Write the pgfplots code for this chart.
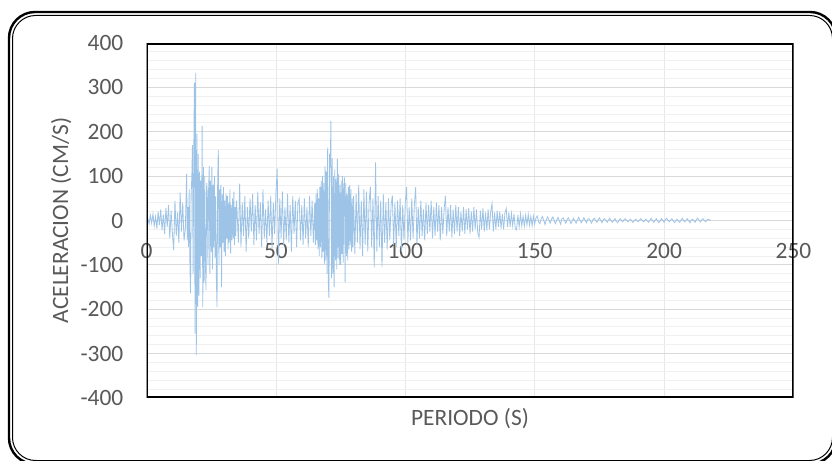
\documentclass[border=0pt]{standalone}
\usepackage{pgfplots}
\pgfplotsset{compat=1.18}
\usepackage{fontspec}
\setmainfont{Carlito}
\definecolor{txt}{HTML}{595959}
\definecolor{sig}{HTML}{9DC3E6}
\definecolor{gmaj}{HTML}{D9D9D9}
\definecolor{gmin}{HTML}{F0F0F0}
\definecolor{gx}{HTML}{E8E8E8}
\begin{document}
\begin{tikzpicture}
\useasboundingbox (0,0) rectangle (832bp,461bp);
\begin{axis}[
  at={(146.5bp,63bp)}, anchor=south west,
  scale only axis, width=647bp, height=355bp,
  xmin=0, xmax=250, ymin=-400, ymax=400,
  xtick={0,50,100,150,200,250},
  ytick={-400,-300,-200,-100,0,100,200,300,400},
  minor y tick num=4,
  major tick length=0pt, minor tick length=0pt,
  axis line style={draw=none},
  xmajorgrids, ymajorgrids, yminorgrids,
  x grid style={draw=gx, line width=0.8bp},
  y grid style={draw=gmaj, line width=1bp},
  minor y grid style={draw=gmin, line width=1bp},
  extra y ticks={0}, extra y tick labels={},
  extra y tick style={grid=major, major grid style={draw=gmaj!85!black, line width=1.2bp}},
  /pgf/number format/assume math mode=true,
  tick label style={font=\fontsize{23.5}{28}\selectfont, text=txt, inner sep=0pt},
  xticklabel style={anchor=north, yshift=155bp},
  yticklabel style={anchor=east, xshift=-23bp},
  label style={font=\fontsize{23.5}{28}\selectfont, text=txt},
  xlabel={PERIODO (S)},
  xlabel style={at={(axis description cs:0.5,-0.059)}, anchor=center},
  ylabel={ACELERACION (CM/S)},
  ylabel style={at={(axis description cs:-0.132,0.5)}, anchor=center, rotate=0},
]
\addplot[sig, line width=0.8bp, mark=none] coordinates {
(0,0)(0.5,5)(1,-8)(1.5,12)(2,-6)(2.5,15)(3,-12)(3.5,9)(4,-18)(4.5,20)(5,-10)(5.5,25)(6,-22)(6.5,14)(7,-30)(7.5,28)(8,-15)(8.5,35)(9,-40)(9.5,22)(10,-28)(10.5,-67)(11,45)(11.5,-35)(12,18)(12.5,-50)(13,63)(13.5,-25)(14,40)(14.5,-45)
(15,-20)(15.25,40)(15.5,105)(15.75,-45)(16,30)(16.25,-60)(16.5,70)(16.75,-90)(17,-164)(17.25,60)(17.5,95)(17.75,170)(18,-120)(18.25,140)(18.5,310)(18.75,-255)(19,332)(19.25,-303)(19.5,195)(19.75,-194)
(20,150)(20.25,-170)(20.5,110)(20.75,-130)(21,90)(21.25,-80)(21.5,213)(21.75,-195)(22,120)(22.25,-140)(22.5,100)(22.75,-90)(23,-157)(23.25,85)(23.5,60)(23.75,-100)(24,70)(24.25,123)(24.5,-120)(24.75,90)
(25,-70)(25.25,120)(25.5,-110)(25.75,80)(26,-60)(26.25,100)(26.5,-85)(26.75,55)(27,-130)(27.25,-195)(27.5,90)(27.75,159)(28,-100)(28.25,70)(28.5,-60)(28.75,80)(29,-150)(29.25,60)(29.5,-50)(29.75,75)
(30,-70)(30.25,45)(30.5,-80)(30.75,60)(31,-40)(31.25,55)(31.5,-65)(31.75,40)(32,-50)(32.25,70)(32.5,-74)(32.75,35)(33,-45)(33.25,50)(33.5,-40)(33.75,65)(34,-55)(34.25,30)(34.5,-35)(34.75,45)
(35,20)(35.5,-50)(36,83)(36.5,-60)(37,40)(37.5,-35)(38,55)(38.5,-70)(39,30)(39.5,-40)(40,50)(40.5,-25)(41,60)(41.5,-55)(42,35)(42.5,-45)(43,65)(43.5,-30)(44,40)(44.5,-60)
(45,70)(45.5,-40)(46,25)(46.5,-50)(47,45)(47.5,-35)(48,55)(48.5,-65)(49,40)(49.5,-30)(50,60)(50.5,117)(51,-97)(51.5,50)(52,-40)(52.5,65)(53,-55)(53.5,30)(54,-45)(54.5,60)
(55,-50)(55.5,35)(56,-70)(56.5,55)(57,-30)(57.5,45)(58,-60)(58.5,40)(59,49)(59.5,-45)(60,35)(60.5,-55)(61,50)(61.5,-40)(62,30)(62.5,-60)(63,55)(63.5,-35)(64,45)(64.5,-50)
(65,40)(65.25,-55)(65.5,60)(65.75,-45)(66,70)(66.25,-65)(66.5,50)(66.75,-80)(67,75)(67.25,-60)(67.5,90)(67.75,-85)(68,100)(68.25,-70)(68.5,85)(68.75,-97)(69,123)(69.25,-90)(69.5,110)(69.75,-120)
(70,164)(70.25,-140)(70.5,-175)(70.75,150)(71,120)(71.25,224)(71.5,-130)(71.75,140)(72,-120)(72.25,100)(72.5,-150)(72.75,115)(73,-90)(73.25,95)(73.5,-110)(73.75,139)(74,-85)(74.25,105)(74.5,-100)(74.75,80)
(75,-100)(75.25,90)(75.5,-75)(75.75,100)(76,-95)(76.25,70)(76.5,97)(76.75,-139)(77,85)(77.25,-80)(77.5,60)(77.75,-90)(78,75)(78.25,-65)(78.5,80)(78.75,-55)(79,70)(79.25,-70)(79.5,50)(79.75,-60)
(80,55)(80.5,-75)(81,60)(81.5,-50)(82,80)(82.5,-65)(83,45)(83.5,-80)(84,70)(84.5,-55)(85,65)(85.5,-70)(86,40)(86.5,76)(87,-60)(87.5,50)(88,-105)(88.5,131)(89,-70)(89.5,55)
(90,-60)(90.5,45)(91,-104)(91.5,60)(92,-50)(92.5,40)(93,-65)(93.5,50)(94,-45)(94.5,35)(95,56)(95.5,-55)(96,40)(96.5,-60)(97,45)(97.5,-35)(98,50)(98.5,-70)(99,35)(99.5,-45)
(100,40)(100.5,75)(101,-50)(101.5,30)(102,-45)(102.5,50)(103,-40)(103.5,35)(104,75)(104.5,-55)(105,30)(105.5,-40)(106,45)(106.5,-35)(107,25)(107.5,-45)(108,40)(108.5,-30)(109,35)(109.5,-25)
(110,45)(110.5,-40)(111,30)(111.5,-35)(112,40)(112.5,-25)(113,35)(113.5,-45)(114,30)(114.5,-30)(115,25)(115.5,56)(116,-35)(116.5,30)(117,-25)(117.5,35)(118,-38)(118.5,25)(119,-30)(119.5,35)
(120,-25)(120.5,30)(121,-35)(121.5,20)(122,-25)(122.5,30)(123,-30)(123.5,25)(124,-20)(124.5,28)(125,-30)(125.5,20)(126,-25)(126.5,30)(127,-20)(127.5,25)(128,-28)(128.5,-38)(129,22)(129.5,-20)
(130,28)(130.5,-25)(131,18)(131.5,-22)(132,25)(132.5,-20)(133,20)(133.5,38)(134,-25)(134.5,18)(135,-20)(135.5,22)(136,-15)(136.5,20)(137,-18)(137.5,15)(138,-20)(138.5,18)(139,27)(139.5,-15)
(140,18)(140.5,-14)(141,16)(141.5,-12)(142,15)(142.5,-18)(143,-21)(143.5,12)(144,-14)(144.5,15)(145,-12)(145.5,10)(146,-13)(146.5,12)(147,-10)(147.5,14)(148,-11)(148.5,9)(149,-12)(149.5,10)
(150,-8)(150.5,6)(151,10)(151.5,-3)(152,-7)(152.5,4)(153,9)(154,-9)(154.5,2)(155,8)(156,-6)(156.5,3)(157,8)(158,-7)(158.5,1)(159,7)(160,-8)(160.5,4)(161,6)(162,-6)(162.5,2)(163,6)(164,-7)(165,5)(165.5,-1)(166,-6)(167,7)(167.5,0)(168,-5)(169,6)
(170,-5)(170.5,3)(171,4)(172,-6)(172.5,2)(173,5)(174,-4)(174.5,1)(175,6)(176,-5)(176.5,2)(177,4)(178,-4)(179,5)(179.5,-1)(180,-4)(181,4)(181.5,-2)(182,-5)(183,4)(184,-3)(184.5,2)(185,4)(186,-3)(187,3)(187.5,-1)(188,-4)(189,3)
(190,-3)(190.5,1)(191,4)(192,-3)(193,3)(193.5,-1)(194,-4)(195,5)(195.5,0)(196,-4)(197,4)(197.5,-1)(198,-5)(199,4)(200,-4)(200.5,2)(201,5)(202,-3)(202.5,1)(203,4)(204,-5)(205,3)(205.5,-1)(206,-4)(207,5)(207.5,0)(208,-3)(209,4)
(210,-5)(210.5,1)(211,3)(212,-4)(212.5,2)(213,5)(214,-3)(214.5,1)(215,4)(216,-3)(216.5,1)(217,3)(218,0)
};
\draw[black, line width=3bp] (rel axis cs:0,0) rectangle (rel axis cs:1,1);
\end{axis}
\draw[black, line width=2.4bp, rounded corners=26bp] (9bp,-3bp) rectangle (836bp,449bp);
\draw[black, line width=1bp, rounded corners=23bp] (12.5bp,0.5bp) rectangle (832.5bp,445.5bp);
\end{tikzpicture}
\end{document}
